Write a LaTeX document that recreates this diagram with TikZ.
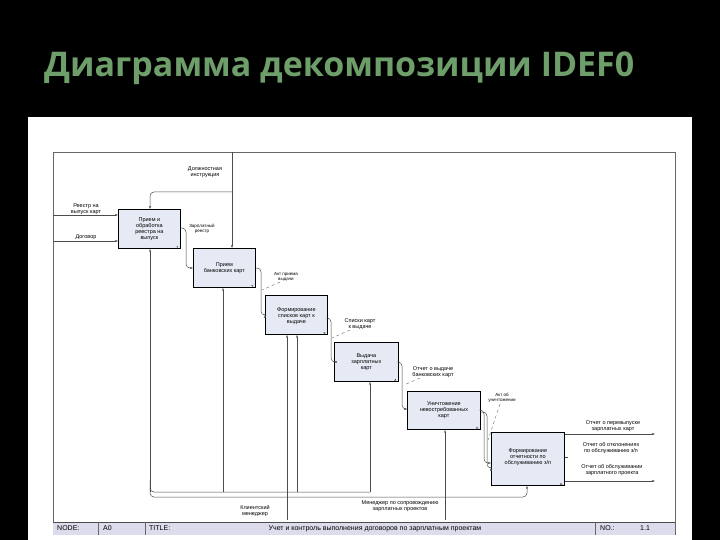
\documentclass[tikz,border=0pt]{standalone}
\usepackage{fontspec}
\setmainfont{Liberation Sans}
\newfontfamily\titlefont{Open Sans}
\usetikzlibrary{arrows.meta}
\definecolor{ttl}{HTML}{6E9F6A}
\definecolor{boxf}{HTML}{E6EAF4}
\definecolor{foot}{HTML}{DCDCEC}
\begin{document}
\begin{tikzpicture}[x=1pt,y=-1pt,
  fn/.style={font=\fontsize{5.5}{6}\selectfont,align=center,inner sep=0pt},
  act/.style={draw,line width=0.8pt,fill=boxf,anchor=north west,inner sep=0pt},
  ar/.style={draw=black!70,line width=0.5pt,-{Stealth[length=3pt,width=2pt]},rounded corners=4pt},
  ln/.style={draw=black!70,line width=0.5pt,rounded corners=4pt},
  sq/.style={draw=black!60,line width=0.4pt,dashed}]
\useasboundingbox (0,0) rectangle (720,540);
\fill[black] (0,0) rectangle (720,540);
\node[anchor=west,inner sep=0pt,text=ttl,font=\titlefont\bfseries\fontsize{34}{38}\selectfont] (title) at (44,68) {Диаграмма декомпозиции IDEF0};
\fill[white] (28,117) rectangle (692,540);
\draw[black!60,line width=0.5pt] (53,152) -- (675,152) -- (675,535) (53,152) -- (53,535);
\fill[foot] (53,522) rectangle (675,535);
\draw[black!70,line width=0.5pt] (53,522) -- (675,522);
\node[fn,anchor=west,font=\fontsize{7}{8}\selectfont] (nd) at (57,528.5) {NODE:};
\node[fn,anchor=west,font=\fontsize{7}{8}\selectfont] (a0) at (103,528.5) {A0};
\node[fn,anchor=west,font=\fontsize{7}{8}\selectfont] (tl) at (149,528.5) {TITLE:};
\node[fn,font=\fontsize{7}{8}\selectfont] (tt) at (375,528.5) {Учет и контроль выполнения договоров по зарплатным проектам};
\node[fn,anchor=west,font=\fontsize{7}{8}\selectfont] (no) at (600,528.5) {NO.:};
\node[fn,anchor=west,font=\fontsize{7}{8}\selectfont] (nn) at (640,528.5) {1.1};
\draw[black!60,line width=0.4pt] (98,522)--(98,535) (145,522)--(145,535) (595,522)--(595,535);
% boxes
\node[act,minimum width=62pt,minimum height=39pt] (b1) at (118,209) {};
\node[fn] at (b1.center) {Прием и\\обработка\\реестра на\\выпуск};
\node[act,minimum width=62pt,minimum height=39pt] (b2) at (193,248) {};
\node[fn] at (b2.center) {Прием\\банковских карт};
\node[act,minimum width=62pt,minimum height=39pt] (b3) at (265,295) {};
\node[fn] at ([yshift=-1pt]b3.center) {Формирование\\списков карт к\\выдаче};
\node[act,minimum width=64pt,minimum height=39pt] (b4) at (334,342) {};
\node[fn] at (b4.center) {Выдача\\зарплатных\\карт};
\node[act,minimum width=73pt,minimum height=38pt] (b5) at (407,391) {};
\node[fn] at (b5.center) {Уничтожение\\невостребованных\\карт};
\node[act,minimum width=73pt,minimum height=53pt] (b6) at (491,432) {};
\node[fn] at ([yshift=2pt]b6.center) {Формирование\\отчетности по\\обслуживанию з/п};
\foreach \b/\n in {b1/1,b2/2,b3/3,b4/4,b5/5,b6/6}
  \node[fn,anchor=south east,font=\fontsize{4.5}{5}\selectfont] at ([xshift=-2pt,yshift=-1pt]\b.south east) {\n};
% control
\coordinate (ctop) at (232,152);
\draw[ar] (ctop) -- (b2.north -| 232,0);
\draw[ar] (232,192) -- (150,192) -- (b1.north -| 150,0);
\node[fn] (ci) at (205,172) {Должностная\\инструкция};
% inputs
\coordinate (i1) at (53,215);
\coordinate (i2) at (53,241);
\draw[ar] (i1) -- (i1 -| b1.west);
\draw[ar] (i2) -- (i2 -| b1.west);
\node[fn] at (86,209) {Реестр на\\выпуск карт};
\node[fn] at (86,237) {Договор};
% flows
\draw[ar] (b1.east |- 0,228) -- (186,228) -- (186,268) -- (b2.west |- 0,268);
\node[fn,font=\fontsize{4.5}{5}\selectfont] at (202,229) {Зарплатный\\реестр};
\draw[ar] (b2.east |- 0,268) -- (261,268) -- (261,315) -- (b3.west |- 0,315);
\node[fn,font=\fontsize{4.5}{5}\selectfont] at (286,277) {Акт приема\\выдачи};
\draw[sq] (280,282) -- (262,290);
\draw[ar] (b3.east |- 0,318) -- (331,318) -- (331,362) -- (b4.west |- 0,362);
\node[fn] at (360,324) {Списки карт\\к выдаче};
\draw[sq] (350,330) -- (332,338);
\draw[ar] (b4.east |- 0,362) -- (402,362) -- (402,409) -- (b5.west |- 0,409);
\node[fn] at (433,372) {Отчет о выдаче\\банковских карт};
\draw[sq] (420,378) -- (404,385);
\draw[ar] (b5.east |- 0,410) -- (484,410) -- (484,463) -- (b6.west |- 0,463);
\draw[ar] (b5.east |- 0,412) -- (487,412) -- (487,468) -- (b6.west |- 0,468);
\node[fn,font=\fontsize{4.5}{5}\selectfont] at (502,398) {Акт об\\уничтожении};
\draw[sq] (500,404) -- (488,440);
% outputs
\coordinate (o1) at (655,434);
\coordinate (o2) at (655,457);
\coordinate (o3) at (655,481);
\draw[ar] (b6.east |- o1) -- (o1);
\draw[ln] (b6.east |- o2) -- (568,457);
\draw[ar] (b6.east |- o3) -- (o3);
\node[fn] at (613,426) {Отчет о перевыпуске\\зарплатных карт};
\node[fn] at (611,448) {Отчет об отклонениях\\по обслуживанию з/п};
\node[fn] at (612,470) {Отчет об обслуживании\\зарплатного проекта};
% mechanisms
\coordinate (m1) at (287,520);
\coordinate (m2) at (445,520);
\draw[ar] (m1) -- (b3.south -| 287,0);
\draw[ar] (150,492) -- (b1.south -| 150,0);
\draw[ln] (150,480) -- (150,492) -- (370,492);
\draw[ar] (223,492) -- (b2.south -| 223,0);
\draw[ar] (297,492) -- (b3.south -| 297,0);
\draw[ar] (370,492) -- (b4.south -| 370,0);
\draw[ar] (m2) -- (b5.south -| 445,0);
\draw[ar] (150,488) -- (150,497) -- (527,497) -- (b6.south -| 527,0);
\node[fn] at (255,511) {Клиентский\\менеджер};
\node[fn] at (400,506) {Менеджер по сопровождению\\зарплатных проектов};
\end{tikzpicture}
\end{document}
